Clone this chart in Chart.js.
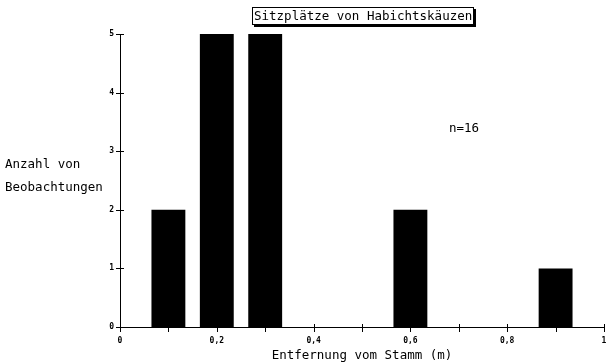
<!DOCTYPE html>
<html><head><meta charset="utf-8">
<script src="https://cdn.jsdelivr.net/npm/chart.js@4"></script>
<style>
body{margin:0;background:#fff}
#wrap{position:relative;width:606px;height:363px}
.t{position:absolute;font-family:"DejaVu Sans Mono",monospace;font-size:12.5px;color:#000;white-space:pre}
#title{left:252px;top:7px;border:1px solid #000;padding:0 1px;box-shadow:2px 2px 0 #000;line-height:16px;background:#fff}
</style></head>
<body><div id="wrap"><canvas id="c" width="606" height="363"></canvas>
<div class="t" id="title">Sitzplätze von Habichtskäuzen</div>
<div class="t" style="left:5px;top:152px;line-height:23px">Anzahl von
Beobachtungen</div>
<div class="t" style="left:449px;top:120px">n=16</div>
</div>
<script>
const distances=[0.1,0.2,0.3,0.6,0.9];
const counts=[2,5,5,2,1];
const xLabelValues=[0,0.2,0.4,0.6,0.8,1];
const yTickValues=[0,1,2,3,4,5];

const tickFont={family:'"DejaVu Sans Mono", monospace',size:8,weight:'bold'};

const crossTicks={id:'crossTicks',afterDraw(chart){
  const ctx=chart.ctx,x=chart.scales.x,y=chart.scales.y;
  const x0=x.getPixelForValue(0),y0=y.getPixelForValue(0);
  ctx.save();ctx.strokeStyle='#000';ctx.lineWidth=1;
  yTickValues.forEach(v=>{const p=Math.round(y.getPixelForValue(v))+0.5;ctx.beginPath();ctx.moveTo(x0-4,p);ctx.lineTo(x0+4,p);ctx.stroke();});
  for(let i=0;i<=10;i++){const p=Math.round(x.getPixelForValue(i/10))+0.5;ctx.beginPath();ctx.moveTo(p,y0-3);ctx.lineTo(p,y0+5);ctx.stroke();}
  ctx.restore();
}};

new Chart(document.getElementById('c'),{
  type:'bar',
  data:{datasets:[{data:distances.map((d,i)=>({x:d,y:counts[i]})),backgroundColor:'#000',borderWidth:0,barPercentage:0.7,categoryPercentage:1}]},
  options:{
    responsive:false,animation:false,
    layout:{padding:{left:0,top:34,right:2,bottom:0}},
    plugins:{legend:{display:false},tooltip:{enabled:false},title:{display:false}},
    scales:{
      x:{type:'linear',min:0,max:1,offset:false,
        grid:{display:false,drawTicks:false},
        border:{display:true,color:'#000',width:1},
        ticks:{stepSize:0.1,autoSkip:false,maxRotation:0,padding:9,color:'#000',font:tickFont,
          callback:v=>{const r=Math.round(v*10);return r%2===0?String(r/10).replace('.',','):'';}},
        title:{display:true,text:'Entfernung vom Stamm (m)',color:'#000',font:{family:'"DejaVu Sans Mono", monospace',size:12.5},padding:{top:1,bottom:0}},
        afterFit:s=>{s.height=36;s.paddingLeft=0;s.paddingRight=0;}
      },
      y:{min:0,max:5,
        grid:{display:false,drawTicks:false},
        border:{display:true,color:'#000',width:1},
        ticks:{stepSize:1,padding:6,color:'#000',font:tickFont},
        afterFit:s=>{s.width=120;s.paddingTop=0;s.paddingBottom=0;}
      }
    }
  },
  plugins:[crossTicks]
});
</script>
</body></html>
